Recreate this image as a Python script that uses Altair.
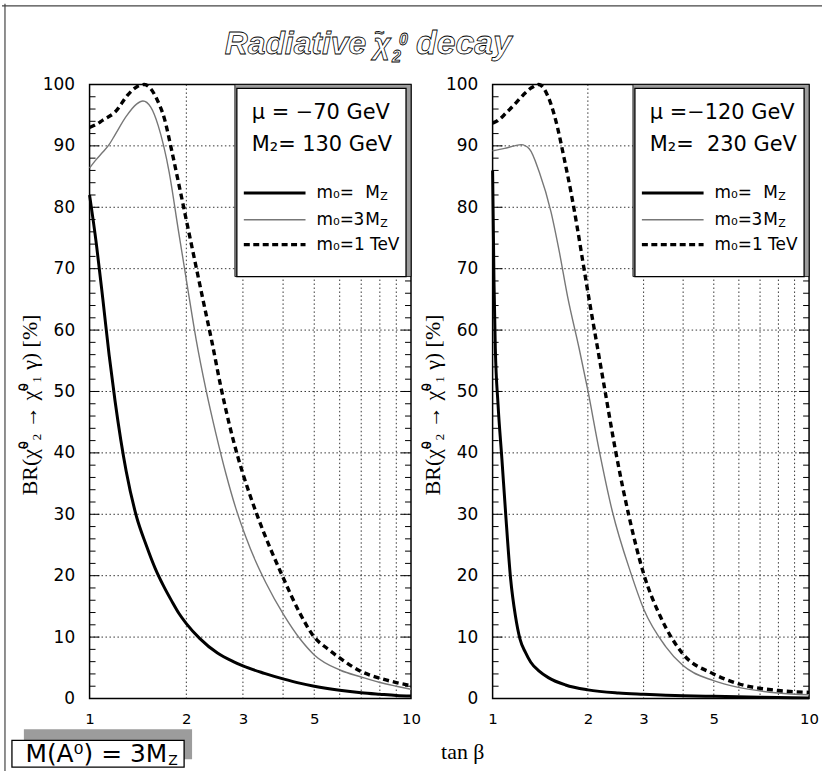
import altair as alt
import pandas as pd

# ---------------- data ----------------
# Left panel: mu = -70 GeV, M2 = 130 GeV
L_mz_x = [1.0, 1.05, 1.1, 1.15, 1.2, 1.3, 1.4, 1.5, 1.6, 1.7, 1.8, 1.9, 2.0, 2.2, 2.5, 2.8, 3.0, 3.5, 4.0, 4.5, 5.0, 6.0, 7.0, 8.0, 9.0, 10.0]
L_mz_y = [82, 74, 65, 56, 48.5, 37, 29.6, 25, 21.2, 18.3, 15.9, 13.8, 12.2, 9.8, 7.4, 6.0, 5.3, 4.1, 3.2, 2.5, 2.0, 1.35, 0.95, 0.7, 0.5, 0.4]

L_3mz_x = [1.0, 1.05, 1.1, 1.15, 1.2, 1.3, 1.4, 1.466, 1.55, 1.635, 1.769, 1.886, 2.01, 2.145, 2.302, 2.473, 2.656, 2.85, 3.063, 3.289, 3.532, 4.01, 4.532, 5.0, 6.03, 7.0, 8.0, 9.0, 10.0]
L_3mz_y = [86.4, 87.8, 89.0, 90.2, 91.8, 94.8, 96.8, 97.3, 96.3, 93.3, 85.7, 76.5, 67.5, 58.5, 50.3, 43.1, 36.6, 31.0, 26.3, 22.3, 18.9, 13.7, 9.6, 7.1, 4.6, 3.5, 2.6, 2.0, 1.5]

L_tev_x = [1.0, 1.05, 1.1, 1.2, 1.32, 1.4, 1.48, 1.55, 1.62, 1.71, 1.8, 1.9, 2.0, 2.1, 2.25, 2.4, 2.56, 2.88, 3.0, 3.33, 4.0, 4.5, 5.0, 5.5, 6.0, 7.0, 8.0, 9.0, 10.0]
L_tev_y = [93, 93.5, 94.2, 95.5, 98.4, 99.6, 100, 99.3, 97.6, 94.4, 89.3, 83.5, 77.9, 72.6, 65.1, 58.2, 50.8, 39.7, 36.6, 29.7, 19.7, 14.0, 10.0, 8.1, 6.6, 4.4, 3.3, 2.6, 2.1]

# Right panel: mu = -120 GeV, M2 = 230 GeV
R_mz_x = [1.0, 1.01, 1.02, 1.04, 1.07, 1.1, 1.14, 1.18, 1.22, 1.27, 1.32, 1.4, 1.5, 1.7, 2.0, 2.5, 3.0, 4.0, 5.0, 7.0, 10.0]
R_mz_y = [86, 68, 57, 48, 39, 30, 19.5, 13.5, 9.7, 7.5, 5.9, 4.5, 3.4, 2.2, 1.4, 0.9, 0.7, 0.45, 0.35, 0.2, 0.1]

R_3mz_x = [1.0, 1.091, 1.173, 1.231, 1.307, 1.405, 1.53, 1.624, 1.725, 1.877, 1.994, 2.17, 2.389, 2.731, 3.006, 3.518, 3.987, 4.99, 5.98, 7.99, 10.0]
R_3mz_y = [89.2, 89.6, 90.0, 90.2, 89.5, 85.7, 79.2, 72.8, 65.5, 57.0, 50.5, 40.5, 30.5, 20.5, 14.5, 8.5, 5.4, 2.9, 1.8, 0.9, 0.6]

R_tev_x = [1.0, 1.05, 1.1, 1.16, 1.25, 1.33, 1.4, 1.489, 1.586, 1.684, 1.768, 1.85, 1.933, 2.018, 2.144, 2.25, 2.449, 2.697, 3.006, 3.393, 3.987, 4.99, 5.98, 7.99, 10.0]
R_tev_y = [93.7, 94.3, 95.3, 96.5, 98.3, 99.5, 100, 98.3, 94.0, 87.9, 82.5, 76.8, 70.8, 65.0, 57.2, 51.0, 40.2, 29.7, 20.2, 13.3, 7.3, 4.0, 2.4, 1.3, 1.0]

# axes / grid values
X_LABELS = [1, 2, 3, 5, 10]
Y_LABELS = [0, 10, 20, 30, 40, 50, 60, 70, 80, 90, 100]
GRID_X = [2, 3, 4, 5, 6, 7, 8, 9]
GRID_Y = [10, 20, 30, 40, 50, 60, 70, 80, 90]
MAJOR_Y = [10, 20, 30, 40, 50, 60, 70, 80, 90]
MINOR_Y = [v for v in range(2, 100, 2) if v % 10]

# ---------------- layout constants ----------------
WL, WR, H = 323, 318, 617
OX, OY = 88, 81          # left plot origin in the page
FIG_W, FIG_H = 824, 771
SANS = "DejaVu Sans"
SERIF = "Liberation Serif"
NB = "\u00a0"
XLAB, YLAB = 15, 17

one = pd.DataFrame({"k": [0]})


def xs():
    return alt.Scale(type="log", domain=[1, 10], nice=False)


def ys():
    return alt.Scale(domain=[0, 100], nice=False, zero=False)


def xa():
    return alt.Axis(values=X_LABELS, format="~g", ticks=False, domain=False, grid=False,
                    labelPadding=13, labelFontSize=XLAB, labelFont=SANS, labelColor="black",
                    labelFlush=False, title=None)


def ya():
    return alt.Axis(values=Y_LABELS, ticks=False, domain=False, grid=False,
                    labelPadding=15, labelFontSize=YLAB, labelFont=SANS, labelColor="black",
                    labelFlush=False, title=None)


def curve(x, y, **mk):
    df = pd.DataFrame({"tanb": x, "br": y})
    return alt.Chart(df).mark_line(interpolate="monotone", **mk).encode(
        x=alt.X("tanb:Q", scale=xs(), axis=xa()),
        y=alt.Y("br:Q", scale=ys(), axis=ya()),
    )


def rect(x, x2, y, y2, **mk):
    return alt.Chart(one).mark_rect(**mk).encode(
        x=alt.value(x), x2=alt.value(x2), y=alt.value(y), y2=alt.value(y2))


def text(s, x, y, **mk):
    return alt.Chart(one).mark_text(text=s, **mk).encode(x=alt.value(x), y=alt.value(y))


def hline(x, x2, y, **mk):
    return alt.Chart(one).mark_rule(**mk).encode(x=alt.value(x), x2=alt.value(x2), y=alt.value(y))


def vline(x, y, y2, **mk):
    return alt.Chart(one).mark_rule(**mk).encode(x=alt.value(x), y=alt.value(y), y2=alt.value(y2))


def grid_and_ticks(W):
    vg = alt.Chart(pd.DataFrame({"tanb": GRID_X})).mark_rule(
        color="black", strokeWidth=0.8, strokeDash=[1.5, 2.5]).encode(
        x=alt.X("tanb:Q", scale=xs(), axis=xa()), y=alt.value(0), y2=alt.value(H))
    hg = alt.Chart(pd.DataFrame({"br": GRID_Y})).mark_rule(
        color="black", strokeWidth=0.8, strokeDash=[1.5, 2.5]).encode(
        y=alt.Y("br:Q", scale=ys(), axis=ya()), x=alt.value(0), x2=alt.value(W))
    layers = [vg, hg]
    for vals, ln in ((MINOR_Y, 6), (MAJOR_Y, 10)):
        d = pd.DataFrame({"br": vals})
        layers.append(alt.Chart(d).mark_rule(color="black", strokeWidth=1).encode(
            y=alt.Y("br:Q", scale=ys(), axis=ya()), x=alt.value(0), x2=alt.value(ln)))
        layers.append(alt.Chart(d).mark_rule(color="black", strokeWidth=1).encode(
            y=alt.Y("br:Q", scale=ys(), axis=ya()), x=alt.value(W - ln), x2=alt.value(W)))
    return layers


def legend(W, mu_txt, m2_txt):
    bl = W - 177
    tx = W - 95
    f17 = dict(baseline="middle", font=SANS, fontSize=17)
    out = [
        rect(bl, W, 0, 193, fill="#9c9c9c", stroke="black", strokeWidth=0.8),
        rect(bl + 2, W - 5, 4, 193, fill="white", stroke="black", strokeWidth=1.3),
        text(mu_txt, W - 160, 29, align="left", baseline="middle", font=SANS, fontSize=21),
        text(m2_txt, W - 160, 61, align="left", baseline="middle", font=SANS, fontSize=21),
        hline(W - 168, W - 106, 109, color="black", strokeWidth=3),
        hline(W - 168, W - 106, 136, color="#777777", strokeWidth=1.4),
        hline(W - 168, W - 106, 161, color="black", strokeWidth=3.2, strokeDash=[6, 3.5]),
        text("m₀=", tx, 109, align="left", **f17),
        text("M", W - 46, 109, align="left", **f17),
        text("Z", W - 31, 113, align="left", baseline="middle", font=SANS, fontSize=11),
        text("m₀=", tx, 136, align="left", **f17),
        text("3", W - 47, 136, align="right", **f17),
        text("M", W - 46, 136, align="left", **f17),
        text("Z", W - 31, 140, align="left", baseline="middle", font=SANS, fontSize=11),
        text("m₀=1" + NB + "TeV", tx, 161, align="left", **f17),
    ]
    return out


YTITLE = "BR(χ̃⁰₂ → χ̃⁰₁ γ) [%]"


def panel(W, mz, m3, tev, mu_txt, m2_txt, extra=()):
    layers = list(extra)
    layers += grid_and_ticks(W)
    layers += [
        curve(*mz, color="black", strokeWidth=3),
        curve(*m3, color="#777777", strokeWidth=1.4),
        curve(*tev, color="black", strokeWidth=3.4, strokeDash=[6, 4]),
    ]
    layers += legend(W, mu_txt, m2_txt)
    layers.append(text(YTITLE, -60, 322, angle=270, align="center", baseline="middle",
                       font=SERIF, fontSize=22))
    return alt.layer(*layers).properties(width=W, height=H)


# decorations of the whole figure, placed relative to the left plot
frame = [
    rect(-OX, FIG_W - OX, -OY, FIG_H - OY, fillOpacity=0, strokeOpacity=0),
    vline(3 - OX, -OY, FIG_H - OY, color="#444444", strokeWidth=1.2),
    hline(-OX, FIG_W - OX, 2 - OY, color="#444444", strokeWidth=1.2),
]
title_kw = dict(font="Liberation Sans", fontStyle="italic", fontWeight="bold",
                fill="white", stroke="black", strokeWidth=0.8, baseline="alphabetic")
title = [
    text("Radiative", 366 - OX, 50 - OY, align="right", fontSize=32, **title_kw),
    text("χ", 382 - OX, 50 - OY, align="center", fontSize=30, **title_kw),
    text("~", 379 - OX, 34 - OY, align="center", fontSize=17, **title_kw),
    text("0", 399 - OX, 41 - OY, align="left", fontSize=16, **title_kw),
    text("2", 392 - OX, 58 - OY, align="left", fontSize=16, **title_kw),
    text("decay", 416 - OX, 50 - OY, align="left", fontSize=34, **title_kw),
]
bottom = [
    rect(22 - OX, 191 - OX, 729 - OY, 759 - OY, fill="#9c9c9c"),
    rect(10 - OX, 183 - OX, 740 - OY, 767 - OY, fill="white", stroke="black", strokeWidth=1.3),
    text("M(A⁰) = 3M", 166 - OX, 762 - OY, align="right", baseline="alphabetic", font=SANS, fontSize=25),
    text("Z", 167 - OX, 765 - OY, align="left", baseline="alphabetic", font=SANS, fontSize=14),
    text("tan β", 463 - OX, 759 - OY, align="center", baseline="alphabetic", font=SERIF, fontSize=22),
]

left = panel(WL, (L_mz_x, L_mz_y), (L_3mz_x, L_3mz_y), (L_tev_x, L_tev_y),
             "μ = −70 GeV", "M₂= 130 GeV", extra=frame + title + bottom)
right = panel(WR, (R_mz_x, R_mz_y), (R_3mz_x, R_3mz_y), (R_tev_x, R_tev_y),
              "μ =−120 GeV", "M₂=" + NB + NB + "230 GeV")

chart = alt.hconcat(left, right, spacing=493 - OX - WL, bounds="flush").properties(
    padding=0, background="white"
).configure_view(
    stroke="black", strokeWidth=1.5
).configure_axis(
    labelFont=SANS, labelColor="black"
).configure_axisY(
    labelFontSize=YLAB
).configure_axisX(
    labelFontSize=XLAB
)

chart.save("out.html", embed_options={"renderer": "svg", "actions": False})
